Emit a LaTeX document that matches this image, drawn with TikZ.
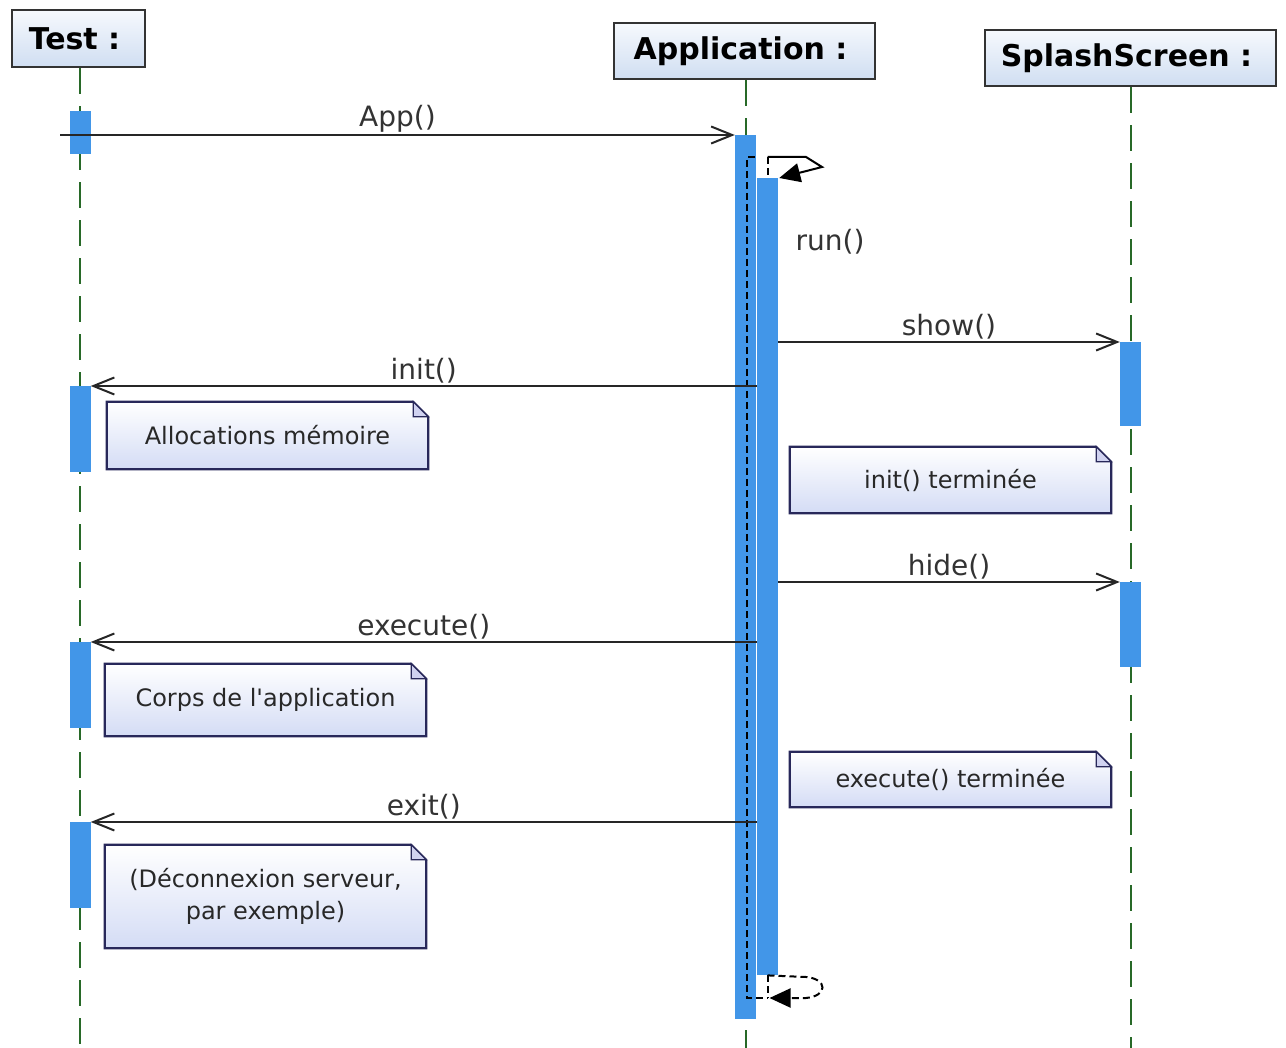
\documentclass[tikz,border=0pt]{standalone}
\usepackage{fontspec}
\setmainfont{DejaVu Sans}[Ligatures=TeXOff]
\usetikzlibrary{arrows.meta,backgrounds,calc}

\definecolor{actblue}{RGB}{66,150,232}
\definecolor{lifegreen}{RGB}{40,105,40}
\definecolor{noteedge}{RGB}{40,40,90}
\definecolor{notefill}{RGB}{212,220,245}
\definecolor{foldfill}{RGB}{208,210,240}
\definecolor{headtop}{RGB}{246,249,253}
\definecolor{headbottom}{RGB}{208,222,242}
\definecolor{inktext}{RGB}{40,40,40}

\begin{document}
\begin{tikzpicture}[x=1pt,y=-1pt,
  objhead/.style={draw=black!80, line width=2.5pt, top color=headtop, bottom color=headbottom,
    inner sep=0pt, font=\fontsize{30}{36}\selectfont\bfseries},
  lifeline/.style={draw=lifegreen, line width=2pt, dash pattern=on 26pt off 12pt},
  act/.style={fill=actblue, draw=none, minimum width=21pt, inner sep=0pt, anchor=north},
  msg/.style={draw=black!85, line width=2pt,
    -{Straight Barb[length=21pt,width=17pt,line width=2pt]}},
  msglabel/.style={font=\fontsize{28}{32}\selectfont, text=black!80, above, inner sep=1.5pt},
  notetext/.style={font=\fontsize{24}{32}\selectfont, text=inktext, align=center,
    inner sep=0pt, minimum width=321pt},
  notebg/.style={draw=noteedge, line width=2.2pt, top color=white, bottom color=notefill},
  notefold/.style={draw=noteedge, line width=1.2pt, fill=foldfill},
  selfcall/.style={draw=black, line width=2pt, -{Triangle[length=21pt,width=19pt]}},
  retline/.style={draw=black, line width=2pt, dash pattern=on 7pt off 4pt},
]
\useasboundingbox (0,0) rectangle (1286,1048);

% object headers
\node[objhead, minimum width=133pt, minimum height=57pt] (test) at (78.5,38.5) {Test :\kern8pt};
\node[objhead, minimum width=261pt, minimum height=56pt] (app) at (744.5,51) {Application :\kern8pt};
\node[objhead, minimum width=291pt, minimum height=56pt] (splash) at (1130.5,58) {SplashScreen :\kern8pt};

% lifelines
\draw[lifeline] (test.south -| 80,0) -- (80,1048);
\draw[lifeline] (app.south -| 745.5,0) -- (745.5,1048);
\draw[lifeline] (splash.south -| 1130.5,0) -- (1130.5,1048);

% activation bars
\node[act, minimum height=43pt] (tA) at (80,111) {};
\node[act, minimum height=86pt] (tB) at (80,386) {};
\node[act, minimum height=86pt] (tC) at (80,642) {};
\node[act, minimum height=86pt] (tD) at (80,822) {};
\node[act, minimum height=884pt] (appA) at (745.5,135) {};
\node[act, minimum height=797pt] (appB) at (767.5,178) {};
\node[act, minimum height=84pt] (sA) at (1130.5,342) {};
\node[act, minimum height=85pt] (sB) at (1130.5,582) {};

% self call run() and its return
\coordinate (callstart) at (767.5,157);
\coordinate (retend) at (767.5,998);
\draw[retline] (755,157) -- (747,157) -- (747,998) -- (retend);
\draw[retline] (callstart) -- (appB.north);
\draw[selfcall] (callstart) -- (806,157) -- (822,167) -- ($(appB.north east)+(1,0)$);
\draw[retline] (appB.south) -- (retend);
\draw[retline, -{Triangle[length=21pt,width=19pt]}] (appB.south)
  -- (806,977) .. controls (828,979) and (828,996) .. (806,998) -- ($(retend)+(2,0)$);
\node[msglabel, anchor=center] (runlbl) at (830,242) {run()};

% messages
\coordinate (found) at (60,135);
\draw[msg] (found) -- node[msglabel] {App()} (appA.north west);
\draw[msg] (appB.east |- sA.north) -- node[msglabel] {show()} (sA.north west);
\draw[msg] (appB.west |- tB.north) -- node[msglabel] {init()} (tB.north east);
\draw[msg] (appB.east |- sB.north) -- node[msglabel] {hide()} (sB.north west);
\draw[msg] (appB.west |- tC.north) -- node[msglabel] {execute()} (tC.north east);
\draw[msg] (appB.west |- tD.north) -- node[msglabel] {exit()} (tD.north east);

% notes
\node[notetext, minimum height=67pt] (n1) at (267.5,435.5) {Allocations mémoire};
\node[notetext, minimum height=66pt] (n2) at (950.5,480) {init() terminée};
\node[notetext, minimum height=72pt] (n3) at (265.5,700) {Corps de l'application};
\node[notetext, minimum height=55pt] (n4) at (950.5,779.5) {execute() terminée};
\node[notetext, minimum height=103pt] (n5) at (265.5,896.5) {(Déconnexion serveur,\\par exemple)};

\begin{scope}[on background layer]
  \foreach \n in {n1,n2,n3,n4,n5} {
    \path[notebg] (\n.north west) -- ([xshift=-15pt]\n.north east)
      -- ([yshift=-15pt]\n.north east) -- (\n.south east) -- (\n.south west) -- cycle;
    \path[notefold] ([xshift=-15pt]\n.north east) -- ([xshift=-15pt,yshift=-15pt]\n.north east)
      -- ([yshift=-15pt]\n.north east) -- cycle;
  }
\end{scope}
\end{tikzpicture}
\end{document}
